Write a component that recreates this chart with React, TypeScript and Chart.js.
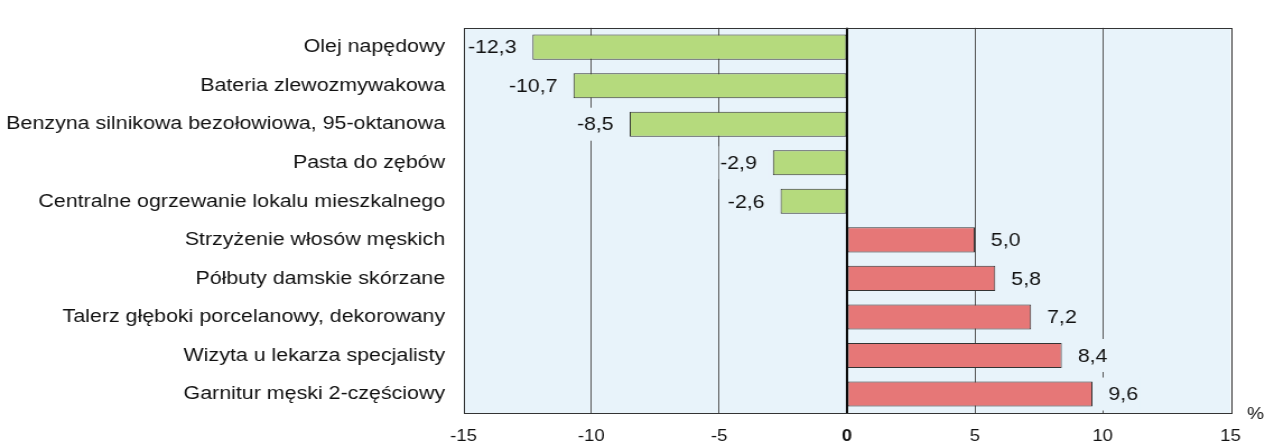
import React, { useEffect, useRef } from "react";
import { Chart, registerables } from "chart.js";

Chart.register(...registerables);

const categories: string[] = [
  "Olej napędowy",
  "Bateria zlewozmywakowa",
  "Benzyna silnikowa bezołowiowa, 95-oktanowa",
  "Pasta do zębów",
  "Centralne ogrzewanie lokalu mieszkalnego",
  "Strzyżenie włosów męskich",
  "Półbuty damskie skórzane",
  "Talerz głęboki porcelanowy, dekorowany",
  "Wizyta u lekarza specjalisty",
  "Garnitur męski 2-częściowy",
];

const values: number[] = [-12.3, -10.7, -8.5, -2.9, -2.6, 5.0, 5.8, 7.2, 8.4, 9.6];

const axisMin = -15;
const axisMax = 15;
const axisStep = 5;
const unitLabel = "%";

const FONT = '"Liberation Sans", Arial, Helvetica, sans-serif';
const PLOT_BG = "#e8f3fa";
const GREEN = "#b5da7d";
const RED = "#e67777";
const BORDER = "#333333";

// horizontal stretch of the reference rendering
const DISPLAY_W = 1265;
const DISPLAY_H = 443;
const STRETCH = 1.12;
const W = Math.round(DISPLAY_W / STRETCH);
const H = DISPLAY_H;

const fmt = (v: number) => v.toFixed(1).replace(".", ",");

const decorPlugin = {
  id: "decor",
  beforeDraw(chart: any) {
    const { ctx, chartArea } = chart;
    ctx.save();
    ctx.fillStyle = PLOT_BG;
    ctx.fillRect(chartArea.left, chartArea.top, chartArea.right - chartArea.left, chartArea.bottom - chartArea.top);
    ctx.restore();
  },
  afterDatasetsDraw(chart: any) {
    const { ctx, chartArea, scales } = chart;
    const xs = scales.x;
    const meta = chart.getDatasetMeta(0);
    ctx.save();
    ctx.font = `19px ${FONT}`;
    ctx.textBaseline = "middle";
    meta.data.forEach((bar: any, i: number) => {
      const v = values[i];
      const txt = fmt(v);
      const w = ctx.measureText(txt).width;
      const end = xs.getPixelForValue(v);
      const y = bar.y;
      const gap = 14.3;
      let bx0: number, bx1: number, tx: number;
      if (v < 0) {
        const right = end - gap;
        tx = right - w;
        bx0 = tx - 1;
        bx1 = end - 3;
      } else {
        tx = end + gap;
        bx0 = end + 3;
        bx1 = tx + w + 2;
      }
      ctx.fillStyle = PLOT_BG;
      ctx.fillRect(bx0, y - 16.5, bx1 - bx0, 33);
      ctx.fillStyle = "#111";
      ctx.textAlign = "left";
      ctx.fillText(txt, tx, y + 1);
    });
    // zero line
    const x0 = xs.getPixelForValue(0);
    ctx.strokeStyle = "#000";
    ctx.lineWidth = 2;
    ctx.beginPath();
    ctx.moveTo(x0, chartArea.top);
    ctx.lineTo(x0, chartArea.bottom);
    ctx.stroke();
    // frame
    ctx.strokeStyle = BORDER;
    ctx.lineWidth = 1;
    ctx.strokeRect(
      Math.round(chartArea.left) + 0.5,
      Math.round(chartArea.top) + 0.5,
      Math.round(chartArea.right - chartArea.left),
      Math.round(chartArea.bottom - chartArea.top)
    );
    // unit
    ctx.fillStyle = "#111";
    ctx.font = `17px ${FONT}`;
    ctx.textAlign = "center";
    ctx.textBaseline = "middle";
    ctx.fillText(unitLabel, 1255 / STRETCH, 414);
    ctx.restore();
  },
};

export default function App() {
  const ref = useRef<HTMLCanvasElement | null>(null);

  useEffect(() => {
    document.body.style.margin = "0";
    if (!ref.current) return;
    Chart.defaults.font.family = FONT;
    Chart.defaults.color = "#111";
    const chart = new Chart(ref.current, {
      type: "bar",
      data: {
        labels: categories,
        datasets: [
          {
            data: values,
            backgroundColor: values.map((v) => (v < 0 ? GREEN : RED)),
            borderColor: BORDER,
            borderWidth: 1,
            borderSkipped: false,
            barPercentage: 0.65,
            categoryPercentage: 1,
          },
        ],
      },
      options: {
        indexAxis: "y",
        responsive: false,
        animation: false,
        devicePixelRatio: 1,
        layout: { padding: { top: 14, right: W - 1230 / STRETCH, left: 0, bottom: 0 } },
        plugins: { legend: { display: false }, tooltip: { enabled: false } },
        scales: {
          x: {
            type: "linear",
            min: axisMin,
            max: axisMax,
            ticks: {
              stepSize: axisStep,
              padding: 13,
              color: "#111",
              font: (c: any) => ({
                size: 16.5,
                family: FONT,
                weight: c.tick && c.tick.value === 0 ? "bold" : "normal",
              }),
              callback: (v: any) => String(v),
            },
            grid: {
              drawTicks: false,
              color: (c: any) => {
                const v = c.tick ? c.tick.value : null;
                return v === 0 || v === axisMin || v === axisMax ? "rgba(0,0,0,0)" : "#5a5a5a";
              },
              lineWidth: 1,
            },
            border: { display: false },
            afterFit: (s: any) => {
              s.height = H - 413.3;
            },
          },
          y: {
            type: "category",
            ticks: { padding: 16.4, color: "#111", font: { size: 19.1, family: FONT } },
            grid: { display: false, drawTicks: false },
            border: { display: false },
            afterFit: (s: any) => {
              s.width = 463.3 / STRETCH;
            },
          },
        },
      },
      plugins: [decorPlugin],
    } as any);
    return () => chart.destroy();
  }, []);

  return (
    <div style={{ width: DISPLAY_W, height: DISPLAY_H }}>
      <canvas
        ref={ref}
        width={W}
        height={H}
        style={{ width: DISPLAY_W + "px", height: DISPLAY_H + "px", display: "block" }}
      />
    </div>
  );
}
